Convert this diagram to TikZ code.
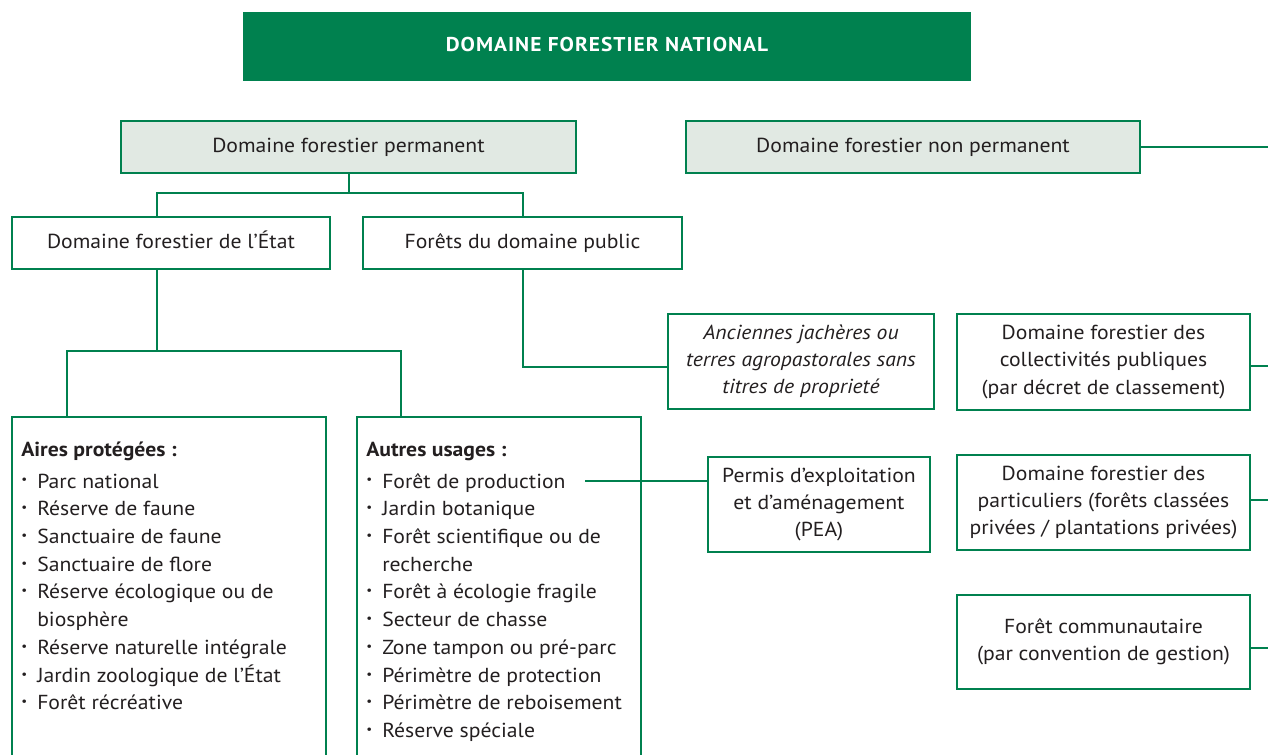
\documentclass[tikz,border=0pt]{standalone}
\usepackage{fontspec}
\setmainfont{PT Sans}[FakeStretch=1.07]
\usepackage{graphicx}
\definecolor{fgreen}{HTML}{00814F}
\definecolor{ffill}{HTML}{E1E9E3}
\definecolor{ftext}{HTML}{231F20}
\newcommand\boxfont{\fontsize{15.2}{20.3}\selectfont}
\newcommand\listfont{\fontsize{15.2}{20.8}\selectfont}
\newlength\bulw
\setlength\bulw{12pt}
\newcommand\bul{\makebox[\bulw][l]{\raisebox{0.2em}{\scalebox{0.6}{•}}}}
\newcommand\cont{\hspace*{\bulw}}
\begin{document}
\begin{tikzpicture}[x=0.75pt,y=-0.75pt,
  rect/.style n args={4}{minimum width={(#3-#1)*0.75pt}, minimum height={(#4-#2)*0.75pt}, anchor=center, at={({(#1+#3)/2},{(#2+#4)/2})}},
  box/.style={draw=fgreen, line width=1.5pt, inner sep=0pt, align=center, text=ftext, font=\boxfont},
  onebox/.style={box, text height=1.0em, text depth=0.22em},
  graybox/.style={onebox, fill=ffill},
  link/.style={draw=fgreen, line width=1.5pt},
  listtext/.style={anchor=base west, inner sep=0pt, text=ftext}
  ]
\useasboundingbox (0,0) rectangle (1268,754);
\clip (0,0) rectangle (1268,754);
% banner
\node[rect={243}{12}{971}{81}, fill=fgreen, inner sep=0pt, text=white, text height=0.9em, text depth=0.1em, font=\bfseries\fontsize{15}{17}\selectfont\addfontfeature{LetterSpace=5}] (nat) {DOMAINE FORESTIER NATIONAL};
% level 1
\node[graybox, rect={121}{121}{576}{173}] (perm) {Domaine forestier permanent};
\node[graybox, rect={686}{121}{1140}{173}] (nonperm) {Domaine forestier non permanent};
% level 2
\node[onebox, rect={12}{217}{330}{269}] (etat) {Domaine forestier de l’État};
\node[onebox, rect={363}{217}{682}{269}] (fpub) {Forêts du domaine public};
% other boxes
\node[box, rect={668}{314}{934}{409}, font={\boxfont\itshape}] (anc) {Anciennes jachères ou\\terres agropastorales sans\\titres de proprieté};
\node[box, rect={957}{314}{1250}{410}] (coll) {Domaine forestier des\\collectivités publiques\\(par décret de classement)};
\node[box, rect={957}{455}{1250}{550}] (part) {Domaine forestier des\\particuliers (forêts classées\\privées / plantations privées)};
\node[box, rect={957}{595}{1250}{689}] (comm) {Forêt communautaire\\(par convention de gestion)};
\node[box, rect={708}{457}{930}{552}] (pea) {Permis d’exploitation\\et d’aménagement\\(PEA)};
% list boxes
\node[box, rect={12}{417}{326}{790}] (aires) {};
\node[box, rect={357}{417}{641}{790}] (autres) {};
\node[listtext] (airestxt) at (21,456) {\parbox[t]{230pt}{\listfont
  \textbf{Aires protégées :}\\[3.2pt]
  \bul Parc national\\
  \bul Réserve de faune\\
  \bul Sanctuaire de faune\\
  \bul Sanctuaire de flore\\
  \bul Réserve écologique ou de\\
  \cont biosphère\\
  \bul Réserve naturelle intégrale\\
  \bul Jardin zoologique de l’État\\
  \bul Forêt récréative}};
\node[listtext] (autrestxt) at (366,456) {\parbox[t]{210pt}{\listfont
  \textbf{Autres usages :}\\[3.2pt]
  \bul Forêt de production\\
  \bul Jardin botanique\\
  \bul Forêt scientifique ou de\\
  \cont recherche\\
  \bul Forêt à écologie fragile\\
  \bul Secteur de chasse\\
  \bul Zone tampon ou pré-parc\\
  \bul Périmètre de protection\\
  \bul Périmètre de reboisement\\
  \bul Réserve spéciale}};
% helper coordinates
\coordinate (busA) at (345,193);
\coordinate (busB) at (157,351);
\coordinate (ta) at (67,0);
\coordinate (tb) at (401,0);
\coordinate (ya) at (0,367);
\coordinate (prod) at (585,481);
\coordinate (r0) at (1268,147);
\coordinate (r1) at (1268,366);
\coordinate (r2) at (1268,500);
\coordinate (r3) at (1268,648);
% connectors
\draw[link] (perm.south) -- (perm.south |- busA);
\draw[link] (etat.north -| busB) |- (fpub.north |- busA) -- (fpub.north);
\draw[link] (etat.south -| busB) -- (busB);
\draw[link] (aires.north -| ta) -- (ta |- busB) -- (tb |- busB) -- (autres.north -| tb);
\draw[link] (fpub.south) |- (anc.west |- ya);
\draw[link] (prod) -- (pea.west |- prod);
\draw[link] (nonperm.east) -- (r0);
\draw[link] (coll.east |- r1) -- (r1);
\draw[link] (part.east |- r2) -- (r2);
\draw[link] (comm.east |- r3) -- (r3);
\end{tikzpicture}
\end{document}
